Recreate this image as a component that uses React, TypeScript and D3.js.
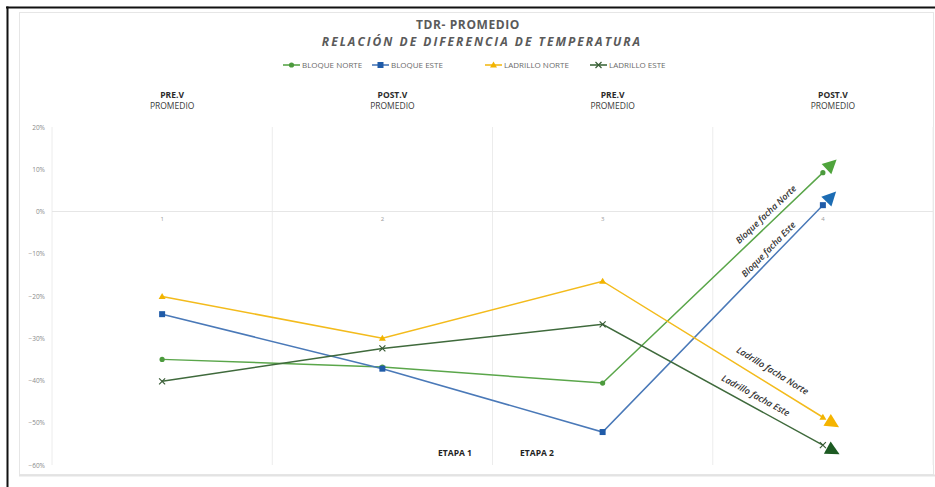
import React from "react";
import * as d3 from "d3";

const W = 935;
const H = 487;

const categories = ["1", "2", "3", "4"];
const stageTop = ["PRE.V", "POST.V", "PRE.V", "POST.V"];
const stageBottom = ["PROMEDIO", "PROMEDIO", "PROMEDIO", "PROMEDIO"];
const yTicks = [0.2, 0.1, 0, -0.1, -0.2, -0.3, -0.4, -0.5, -0.6];

const bloqueNorte = [-0.35, -0.368, -0.406, 0.092];
const bloqueEste = [-0.243, -0.372, -0.522, 0.015];
const ladrilloNorte = [-0.201, -0.3, -0.165, -0.487];
const ladrilloEste = [-0.402, -0.324, -0.267, -0.553];

const seriesNames = ["BLOQUE NORTE", "BLOQUE ESTE", "LADRILLO NORTE", "LADRILLO ESTE"];
const annotations = ["Bloque facha Norte", "Bloque facha Este", "Ladrillo facha Norte", "Ladrillo facha Este"];
const stages = ["ETAPA 1", "ETAPA 2"];

type Series = {
  name: string;
  values: number[];
  line: string;
  marker: string;
  arrow: string;
  shape: "circle" | "square" | "triangle" | "x";
  note: string;
  t: number;
  off: number;
};

const series: Series[] = [
  { name: seriesNames[0], values: bloqueNorte, line: "#5aa64a", marker: "#4c9a3d", arrow: "#4fa43c", shape: "circle", note: annotations[0], t: 0.77, off: 6 },
  { name: seriesNames[1], values: bloqueEste, line: "#4a79b8", marker: "#1f5ba8", arrow: "#1c6cb3", shape: "square", note: annotations[1], t: 0.78, off: 5 },
  { name: seriesNames[2], values: ladrilloNorte, line: "#f3bb1c", marker: "#f2b400", arrow: "#f5b400", shape: "triangle", note: annotations[2], t: 0.74, off: 10 },
  { name: seriesNames[3], values: ladrilloEste, line: "#3f6a3c", marker: "#3a5d37", arrow: "#1c5a22", shape: "x", note: annotations[3], t: 0.67, off: 8 },
];

const FONT = "'Open Sans', 'Noto Sans', sans-serif";

function Marker({ shape, x, y, color }: { shape: Series["shape"]; x: number; y: number; color: string }) {
  if (shape === "circle") return <circle cx={x} cy={y} r={2.6} fill={color} />;
  if (shape === "square") return <rect x={x - 3} y={y - 3} width={6} height={6} fill={color} />;
  if (shape === "triangle")
    return <path d={`M${x},${y - 3.5}L${x + 3.5},${y + 2.5}L${x - 3.5},${y + 2.5}Z`} fill={color} />;
  return (
    <path d={`M${x - 3},${y - 3}L${x + 3},${y + 3}M${x - 3},${y + 3}L${x + 3},${y - 3}`} stroke={color} strokeWidth={1.2} />
  );
}

export default function App() {
  const x = d3.scaleBand<string>().domain(categories).range([52, 933]);
  const y = d3.scaleLinear().domain([-0.6, 0.2]).range([465, 127]);
  const cx = (c: string) => (x(c) as number) + x.bandwidth() / 2;

  const line = d3
    .line<number>()
    .x((_, i) => cx(categories[i]))
    .y((v) => y(v));

  const bandEdges = categories.map((c) => x(c) as number).concat([x.range()[1]]);

  const legendX = [283, 372, 485, 590];

  return (
    <svg
      width={W}
      height={H}
      style={{ position: "absolute", left: 0, top: 0, background: "#fff" }}
      fontFamily={FONT}
    >
      {/* chart area border */}
      <rect x={19.5} y={12.5} width={914} height={462} fill="#fff" stroke="#e6e6e6" strokeWidth={1} />
      <line x1={19} x2={935} y1={475.5} y2={475.5} stroke="#e3e3e3" strokeWidth={2} />

      {/* outer frame */}
      <line x1={6} x2={935} y1={7.5} y2={7.5} stroke="#111" strokeWidth={2} />
      <line x1={7.5} x2={7.5} y1={6.5} y2={487} stroke="#111" strokeWidth={2} />

      {/* titles */}
      <text x={468} y={29} textAnchor="middle" fontSize={12} fontWeight={700} fill="#5a5a5a" letterSpacing={0.6}>
        TDR- PROMEDIO
      </text>
      <text
        x={482}
        y={46}
        textAnchor="middle"
        fontSize={12}
        fontWeight={700}
        fontStyle="italic"
        fill="#5a5a5a"
        letterSpacing={2}
      >
        RELACIÓN DE DIFERENCIA DE TEMPERATURA
      </text>

      {/* legend */}
      {series.map((s, i) => (
        <g key={s.name} transform={`translate(${legendX[i]},65)`}>
          <line x1={0} x2={17} y1={0} y2={0} stroke={s.line} strokeWidth={1.6} />
          <Marker shape={s.shape} x={8.5} y={0} color={s.marker} />
          <text x={19} y={2.7} fontSize={8} fill="#6a6a6a">
            {s.name}
          </text>
        </g>
      ))}

      {/* stage headers */}
      {categories.map((c, i) => (
        <g key={"h" + c}>
          <text x={cx(c) + 10} y={98} textAnchor="middle" fontSize={8.5} fontWeight={700} fill="#2a2a2a">
            {stageTop[i]}
          </text>
          <text x={cx(c) + 10} y={109} textAnchor="middle" fontSize={8.5} fill="#3a3a3a">
            {stageBottom[i]}
          </text>
        </g>
      ))}

      {/* gridlines */}
      {bandEdges.map((e, i) => (
        <line key={"v" + i} x1={e} x2={e} y1={y(0.2)} y2={y(-0.6)} stroke="#ececec" strokeWidth={1} />
      ))}
      <line x1={52} x2={933} y1={y(0)} y2={y(0)} stroke="#e6e6e6" strokeWidth={1.2} />

      {/* y axis labels */}
      {yTicks.map((t) => (
        <text key={t} x={45} y={y(t) + 2.5} textAnchor="end" fontSize={6.5} fill="#8a8a8a">
          {d3.format(".0%")(t)}
        </text>
      ))}

      {/* category labels */}
      {categories.map((c) => (
        <text key={"c" + c} x={cx(c)} y={221} textAnchor="middle" fontSize={6} fill="#9a9a9a">
          {c}
        </text>
      ))}

      {/* series lines */}
      {series.map((s) => (
        <path key={"l" + s.name} d={line(s.values) || ""} fill="none" stroke={s.line} strokeWidth={1.5} />
      ))}

      {/* markers */}
      {series.map((s) => (
        <g key={"m" + s.name}>
          {s.values.map((v, i) => (
            <Marker key={i} shape={s.shape} x={cx(categories[i])} y={y(v)} color={s.marker} />
          ))}
        </g>
      ))}

      {/* arrowheads on the last segment */}
      {series.map((s) => {
        const x0 = cx(categories[2]);
        const y0 = y(s.values[2]);
        const x1 = cx(categories[3]);
        const y1 = y(s.values[3]);
        const deg = (Math.atan2(y1 - y0, x1 - x0) * 180) / Math.PI;
        return (
          <path
            key={"a" + s.name}
            transform={`translate(${x1},${y1}) rotate(${deg})`}
            d="M5,-7L19,0L5,7Z"
            fill={s.arrow}
          />
        );
      })}

      {/* annotations along the last segment */}
      {series.map((s) => {
        const x0 = cx(categories[2]);
        const y0 = y(s.values[2]);
        const x1 = cx(categories[3]);
        const y1 = y(s.values[3]);
        const px = x0 + (x1 - x0) * s.t;
        const py = y0 + (y1 - y0) * s.t;
        const deg = (Math.atan2(y1 - y0, x1 - x0) * 180) / Math.PI;
        return (
          <text
            key={"n" + s.name}
            transform={`translate(${px},${py}) rotate(${deg})`}
            y={-s.off}
            textAnchor="middle"
            fontSize={9}
            fontStyle="italic"
            fontWeight={600}
            fill="#333"
          >
            {s.note}
          </text>
        );
      })}

      {/* stage labels */}
      <text x={455} y={456} textAnchor="middle" fontSize={8.5} fontWeight={700} fill="#222">
        {stages[0]}
      </text>
      <text x={537} y={456} textAnchor="middle" fontSize={8.5} fontWeight={700} fill="#222">
        {stages[1]}
      </text>
    </svg>
  );
}
